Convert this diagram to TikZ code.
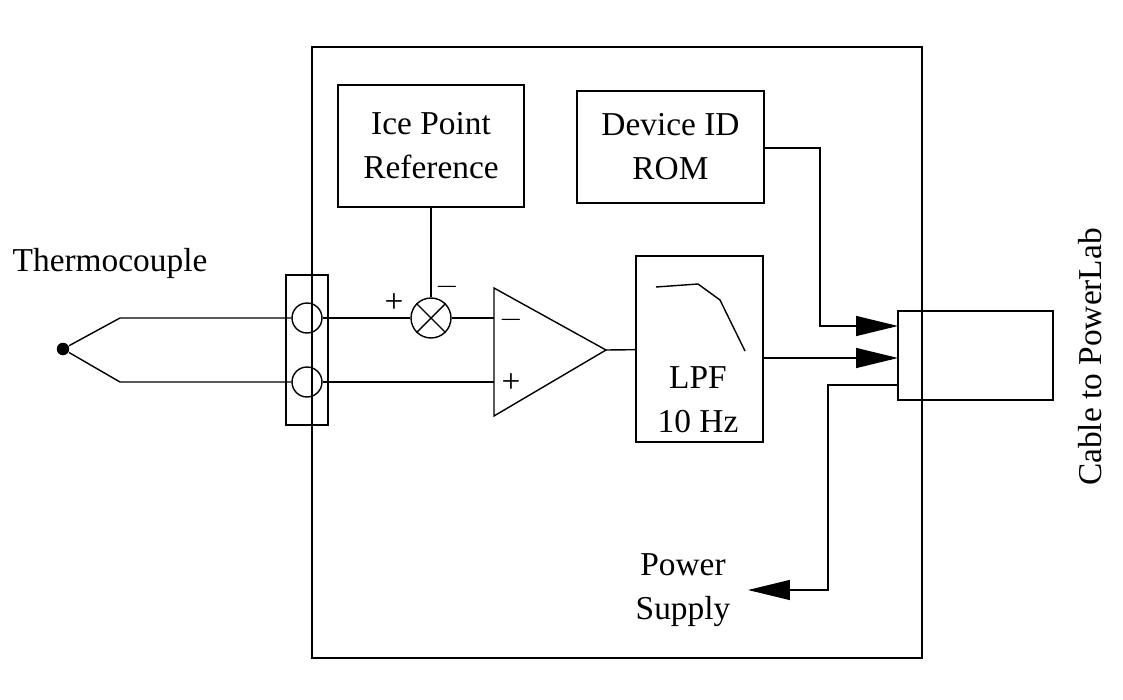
\documentclass[tikz,border=0pt]{standalone}
\usepackage{fontspec}
\setmainfont{Liberation Serif}
\usetikzlibrary{arrows.meta,positioning}

\begin{document}
\begin{tikzpicture}[x=0.02cm,y=-0.02cm,line width=0.8pt,
  font=\fontsize{19}{25}\selectfont]
\tikzstyle{block} = [rectangle, draw, align=center, inner sep=0pt]
\tikzstyle{port} = [circle, draw, inner sep=0pt, minimum size=0.6cm]
\tikzstyle{big} = [-{Triangle[length=0.84cm,width=0.4cm]}]
\useasboundingbox (0,0) rectangle (1123,700);
% housing
\node [block, minimum width=12.2cm, minimum height=12.22cm] (box) at (617,352.5) {};
\node [block, minimum width=3.72cm, minimum height=2.44cm] (ice) at (431,146) {Ice Point\\Reference};
\node [block, minimum width=3.74cm, minimum height=2.24cm] (rom) at (670.5,147) {Device ID\\ROM};
\node [block, minimum width=2.54cm, minimum height=3.72cm] (lpf) at (699.5,349) {};
\node [align=center] (lpflbl) at (698,400) {LPF\\10 Hz};
\node [block, minimum width=3.1cm, minimum height=1.78cm] (cable) at (975.5,355.5) {};
\node [rotate=90] (cablelbl) at (1090,357) {Cable to PowerLab};
% thermocouple and terminal block
\node (tc) at (110,263) {Thermocouple};
\node [circle, fill, inner sep=0pt, minimum size=0.25cm] (tip) at (63,349) {};
\node [block, minimum width=0.84cm, minimum height=3cm] (term) at (307,350) {};
\node [port] (p1) at (307,318) {};
\node [port] (p2) at (307,382) {};
\draw (tip) -- (120,318) -- (p1);
\draw (tip) -- (120,382) -- (p2);
% summing junction
\node [circle, draw, minimum size=0.8cm, inner sep=0pt] (sum) at (431,318) {};
\draw (sum.north west) -- (sum.south east) (sum.north east) -- (sum.south west);
\node at (394,303) {+};
\node at (447,287) {$-$};
\draw (ice) -- (sum);
\draw (p1) -- (sum);
% amplifier
\coordinate (ina) at (494,318);
\coordinate (inb) at (494,382);
\draw (494,288) -- (606,350) -- (494,416) -- cycle;
\coordinate (out) at (606,350);
\node at (511,320) {$-$};
\node at (511,383) {+};
\draw (sum) -- (ina);
\draw (p2) -- (inb);
\draw (out) -- (lpf);
% filter response
\draw (656,287) -- (698,284) -- (720,300) -- (745,351);
% outputs
\coordinate (c1) at (898,326);
\coordinate (c2) at (898,358);
\draw [big] (rom.east |- 0,148) -- (820,148) -- (820,326) -- (c1);
\draw [big] (lpf.east |- 0,358) -- (c2);
\node [align=center] (ps) at (683,590) {Power\\Supply};
\draw [big] (cable.west |- 0,385) -- (828,385) -- (828,590) -- (748,590);
\end{tikzpicture}
\end{document}
